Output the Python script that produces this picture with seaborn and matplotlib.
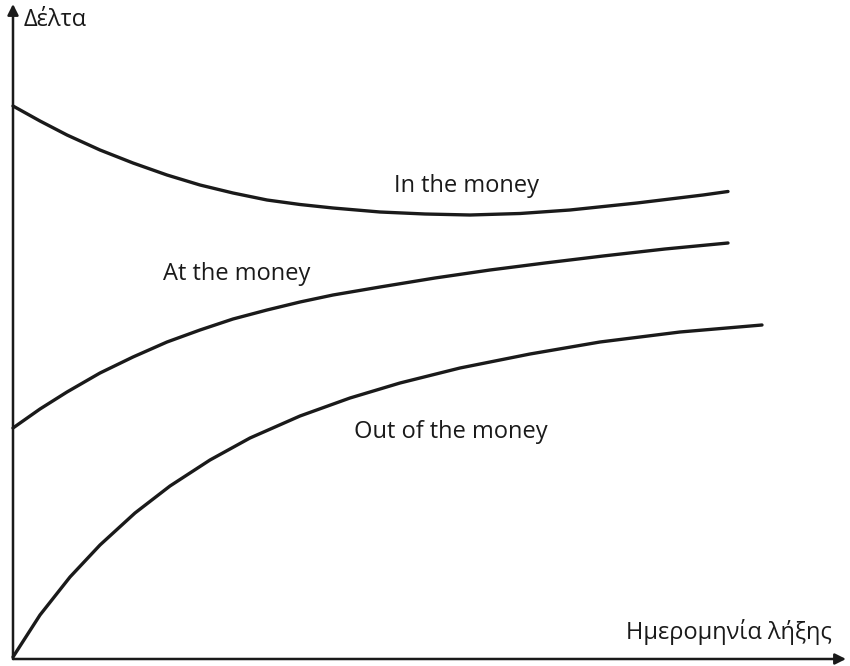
import pandas as pd
import seaborn as sns
import matplotlib.pyplot as plt

# values (pixel positions of the original drawing)
itm_x = [13, 40, 67, 100, 133, 167, 200, 233, 267, 300, 333, 380, 425, 470, 520, 570, 637, 703, 728]
itm_y = [106, 121, 135, 150, 163, 175, 185, 193, 200, 204.5, 208, 212, 214, 215, 213.5, 210, 203, 195, 191.5]

atm_x = [13, 40, 67, 100, 133, 167, 200, 233, 267, 300, 333, 380, 435, 490, 545, 603, 665, 728]
atm_y = [428, 409, 392, 373, 357, 342, 330, 319, 310, 302, 295, 287, 278, 270, 263, 256, 249, 243]

otm_x = [13, 40, 70, 100, 135, 170, 210, 250, 300, 350, 400, 460, 530, 600, 680, 762]
otm_y = [657, 615, 577, 545, 513, 486, 460, 438, 416, 398, 383, 368, 354, 342, 332, 325]

curve_names = ["In the money", "At the money", "Out of the money"]
label_pos = [(467, 186), (237, 274), (451, 432)]
y_label = "Δέλτα"
x_label = "Ημερομηνία λήξης"

rows = []
for name, xs, ys in zip(curve_names, [itm_x, atm_x, otm_x], [itm_y, atm_y, otm_y]):
    for x, y in zip(xs, ys):
        rows.append({"curve": name, "x": x, "y": y})
df = pd.DataFrame(rows)

sns.set_style("white")
plt.rcParams['font.family'] = ['Open Sans', 'DejaVu Sans']

fig = plt.figure(figsize=(8.5, 6.66), dpi=100)
ax = fig.add_axes([0, 0, 1, 1])

for name in curve_names:
    sub = df[df["curve"] == name]
    sns.lineplot(data=sub, x="x", y="y", ax=ax, color="#1a1a1a", linewidth=2.4,
                 estimator=None, sort=True)

for name, (tx, ty) in zip(curve_names, label_pos):
    ax.text(tx, ty, name, fontsize=17, ha="center", va="center", color="#1a1a1a")

ax.set_xlim(0, 850)
ax.set_ylim(666, 0)
ax.set_xlabel("")
ax.set_ylabel("")
ax.set_xticks([])
ax.set_yticks([])
for s in ax.spines.values():
    s.set_visible(False)

# axes with arrows
ax.annotate("", xy=(846, 659), xytext=(13, 659), xycoords="data",
            arrowprops=dict(arrowstyle="-|>", color="#1a1a1a", lw=1.8,
                            mutation_scale=16, shrinkA=0, shrinkB=0))
ax.annotate("", xy=(13, 4), xytext=(13, 659), xycoords="data",
            arrowprops=dict(arrowstyle="-|>", color="#1a1a1a", lw=1.8,
                            mutation_scale=16, shrinkA=0, shrinkB=0))

ax.text(24, 20, y_label, fontsize=17, ha="left", va="center", color="#1a1a1a")
ax.text(832, 632, x_label, fontsize=17, ha="right", va="center", color="#1a1a1a")

fig.savefig("out.png", dpi=100)
plt.close()
